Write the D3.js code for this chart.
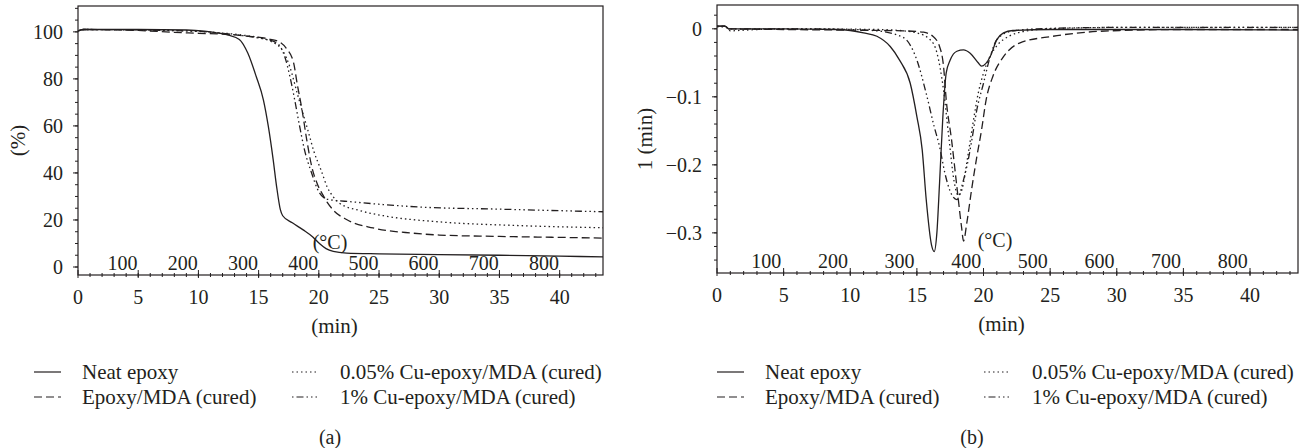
<!DOCTYPE html>
<html>
<head>
<meta charset="utf-8">
<script src="https://cdn.jsdelivr.net/npm/d3@7"></script>
<style>
  body { margin: 0; background: #fff; }
  svg text { fill: #231f20; font-family: "Liberation Serif", "Times New Roman", serif; }
</style>
</head>
<body>
<div id="graph"></div>
<script>
const width = 1309, height = 448;

// series names (legend order)
const seriesNames = ["Neat epoxy", "Epoxy/MDA (cured)", "0.05% Cu-epoxy/MDA (cured)", "1% Cu-epoxy/MDA (cured)"];

// (a) TGA: [time (min), weight (%)]
const tgaNeat = [[0,100.4],[0.5,101],[5,101],[9,100.8],[10.5,100.3],[11.5,99.6],[12.5,98.6],[13.4,96.8],[14.1,91],[14.8,81],[15.4,71],[15.8,60],[16.2,46],[16.5,34],[16.8,24.5],[17.0,21.8],[17.8,18.8],[18.7,15.8],[19.5,12.8],[20.1,9.8],[20.6,7.8],[21.2,6.6],[22.3,5.9],[25,5.6],[30,5.3],[35,5],[40,4.6],[43.6,4.3]];
const tgaEpoxyMDA = [[0,100.4],[0.5,101],[5,100.6],[8,99.8],[10,99.4],[12,99],[14,98.2],[16,96.8],[16.8,95.5],[17.3,93],[17.9,87],[18.2,78],[18.6,67],[19.0,54],[19.4,43],[19.9,35],[20.3,31],[20.7,27.5],[21.2,24.2],[22.3,20.2],[24.5,16.6],[27.8,14.4],[30,13.6],[35,13],[40,12.6],[43.6,12.3]];
const tgaCu005 = [[0,100.4],[0.5,101],[5,100.8],[10,100.2],[12,99.5],[14,98.4],[15,97.6],[16,96],[17,92],[17.6,85],[18.2,74],[18.7,65],[19.1,58],[19.6,49],[20.2,41],[20.7,34],[21.2,29.8],[21.7,27.2],[23.4,24],[25.6,21.6],[30,19.2],[36.7,17.6],[43.6,16.7]];
const tgaCu1 = [[0,100.4],[0.5,101],[5,100.8],[10,100.2],[13,98.8],[15,97.4],[16.5,95.3],[17.2,89],[17.6,81],[18.0,71],[18.4,60],[18.8,50],[19.4,40],[19.9,33],[20.7,28.8],[22.8,27.7],[28.4,25.5],[35,24.6],[43.6,23.5]];

// (b) DTG: [time (min), rate]
const dtgNeat = [[0,0.004],[0.6,0.004],[0.9,0],[5,0],[9,-0.001],[10,-0.0025],[11,-0.006],[12,-0.011],[13,-0.026],[13.7,-0.046],[14.5,-0.08],[15,-0.129],[15.4,-0.178],[15.7,-0.251],[16.1,-0.318],[16.3,-0.3275],[16.5,-0.3],[16.7,-0.227],[16.95,-0.129],[17.2,-0.065],[17.5,-0.046],[18,-0.033],[18.5,-0.031],[19,-0.036],[19.6,-0.05],[19.85,-0.055],[20.5,-0.041],[21,-0.016],[21.5,-0.006],[22.2,-0.0025],[25,-0.001],[35,-0.001],[43.6,-0.002]];
const dtgEpoxyMDA = [[0,0.004],[0.6,0.004],[0.9,0],[5,-0.001],[10,-0.002],[14,-0.003],[15.5,-0.005],[16.2,-0.011],[16.7,-0.026],[17,-0.055],[17.2,-0.104],[17.6,-0.163],[18,-0.232],[18.35,-0.291],[18.5,-0.312],[18.75,-0.285],[19.1,-0.237],[19.5,-0.188],[19.85,-0.149],[20.2,-0.104],[20.7,-0.07],[21.5,-0.041],[22.7,-0.021],[25.2,-0.011],[27.7,-0.005],[30.2,-0.0025],[35,-0.001],[43.6,-0.001]];
const dtgCu005 = [[0,0.003],[0.6,0.003],[1,-0.003],[2,-0.002],[5,0],[12,-0.001],[14,-0.003],[15,-0.006],[16,-0.016],[16.5,-0.035],[17,-0.09],[17.4,-0.16],[17.8,-0.225],[18.1,-0.245],[18.4,-0.235],[18.8,-0.19],[19.2,-0.14],[19.6,-0.095],[20,-0.065],[20.5,-0.04],[21,-0.025],[22,-0.01],[23,-0.004],[25,0],[30,0.002],[43.6,0.002]];
const dtgCu1 = [[0,0.004],[0.6,0.004],[0.9,0],[5,0],[10,-0.001],[12,-0.003],[14,-0.013],[15,-0.046],[15.7,-0.095],[16.3,-0.144],[16.7,-0.173],[17.1,-0.212],[17.5,-0.239],[18,-0.251],[18.5,-0.222],[18.8,-0.198],[19.1,-0.166],[19.5,-0.119],[20,-0.08],[20.5,-0.041],[21,-0.016],[22,-0.004],[24,0],[30,0.002],[43.6,0.002]];

// tick values
const minuteTicks = [0, 5, 10, 15, 20, 25, 30, 35, 40];
const tempTicks = [100, 200, 300, 400, 500, 600, 700, 800];
const weightTicks = [0, 20, 40, 60, 80, 100];
const rateTicks = [0, -0.1, -0.2, -0.3];

const dashes = [null, "8,4", "1.5,3", "1.5,3,7,3,1.5,3,1.5,3"];

const svg = d3.select("#graph").append("svg")
  .attr("width", width)
  .attr("height", height)
  .style("background", "#fff");

function panel(opt) {
  const x = d3.scaleLinear().domain([0, 43.6]).range([opt.left, opt.right]);
  const y = d3.scaleLinear().domain(opt.yDomain).range([opt.bottom, opt.top]);
  const g = svg.append("g");
  const ink = "#231f20";

  // frame
  g.append("rect")
    .attr("x", opt.left).attr("y", opt.top)
    .attr("width", opt.right - opt.left).attr("height", opt.bottom - opt.top)
    .attr("fill", "none").attr("stroke", ink).attr("stroke-width", 1.2);

  // y ticks
  const minors = d3.range(Math.ceil(opt.yDomain[0] / opt.yMinor), Math.floor(opt.yDomain[1] / opt.yMinor) + 1)
    .map(k => k * opt.yMinor);
  g.selectAll(".ymin").data(minors).join("line")
    .attr("x1", opt.left - 3).attr("x2", opt.left)
    .attr("y1", d => y(d)).attr("y2", d => y(d))
    .attr("stroke", ink).attr("stroke-width", 1);
  g.selectAll(".ymaj").data(opt.yTicks).join("line")
    .attr("x1", opt.left - 5).attr("x2", opt.left)
    .attr("y1", d => y(d)).attr("y2", d => y(d))
    .attr("stroke", ink).attr("stroke-width", 1);
  g.selectAll(".ylab").data(opt.yTicks).join("text")
    .attr("x", opt.left - 15).attr("y", d => y(d)).attr("dy", "0.35em")
    .attr("text-anchor", "end").attr("font-size", 20)
    .text(d => d < 0 ? "\u2212" + opt.fmt(-d) : opt.fmt(d));

  // minute ticks (bottom)
  g.selectAll(".xmin").data(d3.range(1, 44)).join("line")
    .attr("x1", d => x(d)).attr("x2", d => x(d))
    .attr("y1", opt.bottom - 2).attr("y2", opt.bottom + 2)
    .attr("stroke", ink).attr("stroke-width", 1);
  g.selectAll(".xmaj").data(minuteTicks).join("line")
    .attr("x1", d => x(d)).attr("x2", d => x(d))
    .attr("y1", opt.bottom - 5).attr("y2", opt.bottom + 3)
    .attr("stroke", ink).attr("stroke-width", 1);
  g.selectAll(".xlab").data(minuteTicks).join("text")
    .attr("x", d => x(d)).attr("y", opt.bottom + 29)
    .attr("text-anchor", "middle").attr("font-size", 20)
    .text(d => d);

  // temperature labels inside the plot (heating 20 °C/min from ~26 °C)
  g.selectAll(".tlab").data(tempTicks).join("text")
    .attr("x", d => x((d - 26) / 20)).attr("y", opt.bottom - 5)
    .attr("text-anchor", "middle").attr("font-size", 20)
    .text(d => d);
  g.append("text")
    .attr("x", opt.degX).attr("y", opt.bottom - 26)
    .attr("text-anchor", "middle").attr("font-size", 20)
    .text("(\u00b0C)");

  // axis titles
  g.append("text")
    .attr("x", (opt.left + opt.right) / 2 - 6).attr("y", opt.bottom + 58)
    .attr("text-anchor", "middle").attr("font-size", 21)
    .text("(min)");
  g.append("text")
    .attr("transform", `translate(${opt.yTitleX},${(opt.top + opt.bottom) / 2}) rotate(-90)`)
    .attr("dy", "0.35em")
    .attr("text-anchor", "middle").attr("font-size", 21)
    .text(opt.yTitle);

  // curves
  const line = d3.line()
    .x(d => x(d[0]))
    .y(d => y(d[1]))
    .curve(d3.curveMonotoneX);
  g.selectAll(".curve").data(opt.series).join("path")
    .attr("d", line)
    .attr("fill", "none")
    .attr("stroke", ink)
    .attr("stroke-width", 1.3)
    .attr("stroke-dasharray", (d, i) => dashes[i]);

  // legend
  const leg = g.append("g");
  seriesNames.forEach((name, i) => {
    const col = i < 2 ? 0 : 1, row = i % 2 === 0 ? 0 : 1;
    const sx = opt.legX[col], ty = 372 + row * 25;
    leg.append("line")
      .attr("x1", sx).attr("x2", sx + 27)
      .attr("y1", ty).attr("y2", ty)
      .attr("stroke", ink).attr("stroke-width", 1.2)
      .attr("stroke-dasharray", dashes[i]);
    leg.append("text")
      .attr("x", sx + 48).attr("y", ty).attr("dy", "0.33em")
      .attr("font-size", 21)
      .text(name);
  });

  g.append("text")
    .attr("x", opt.capX).attr("y", 437).attr("dy", "0.35em")
    .attr("text-anchor", "middle").attr("font-size", 20)
    .text(opt.caption);
}

panel({
  left: 78, right: 603, top: 6, bottom: 275,
  yDomain: [-3.4, 111], yMinor: 5, yTicks: weightTicks,
  fmt: d3.format("d"), yTitle: "(%)", yTitleX: 18,
  series: [tgaNeat, tgaEpoxyMDA, tgaCu005, tgaCu1],
  degX: 330, legX: [34, 292], capX: 330, caption: "(a)"
});

panel({
  left: 717, right: 1298, top: 5, bottom: 273,
  yDomain: [-0.359, 0.035], yMinor: 0.02, yTicks: rateTicks,
  fmt: d => d === 0 ? "0" : d3.format(".1f")(d), yTitle: "1 (min)", yTitleX: 645,
  series: [dtgNeat, dtgEpoxyMDA, dtgCu005, dtgCu1],
  degX: 995, legX: [717, 984], capX: 972, caption: "(b)"
});
</script>
</body>
</html>
